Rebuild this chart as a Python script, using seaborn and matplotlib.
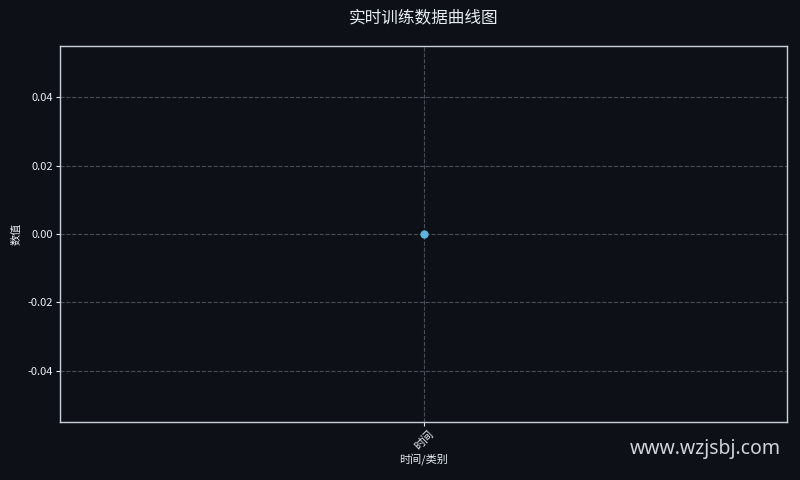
import pandas as pd
import matplotlib
matplotlib.use("Agg")
import matplotlib.pyplot as plt
import seaborn as sns

# data
categories = ["时间"]
values = [0.0]

bg = "#0d1117"
fg = "#e6edf3"

sns.set_theme(style="dark")
plt.rcParams['font.family'] = ['Noto Sans CJK SC', 'DejaVu Sans']
plt.rcParams['axes.unicode_minus'] = False

df = pd.DataFrame({"x": categories, "y": values})

fig = plt.figure(figsize=(8, 4.8), dpi=100, facecolor=bg)
ax = fig.add_axes([0.075, 0.121, 0.909, 0.783])
ax.set_facecolor(bg)

sns.lineplot(data=df, x="x", y="y", marker="o", markersize=6, color="#5ab4dc",
             markeredgewidth=0, ax=ax)

ax.grid(True, linestyle="--", color="#4a4f57", linewidth=0.8)
for s in ax.spines.values():
    s.set_color("#c9d1d9")
    s.set_linewidth(1.0)
ax.tick_params(colors=fg, labelsize=8, length=3, width=0.8, left=True, bottom=True, pad=2)
plt.xticks(rotation=45)
ax.set_xlabel("时间/类别", color=fg, fontsize=8, labelpad=1)
ax.set_ylabel("数值", color=fg, fontsize=8)
ax.set_title("实时训练数据曲线图", color=fg, fontsize=12, pad=17)

fig.text(0.976, 0.065, "www.wzjsbj.com", color="#d0d4d9", fontsize=14,
         ha="right", va="center", family=['Noto Sans', 'DejaVu Sans'])

fig.savefig("out.png", dpi=100, facecolor=bg)
